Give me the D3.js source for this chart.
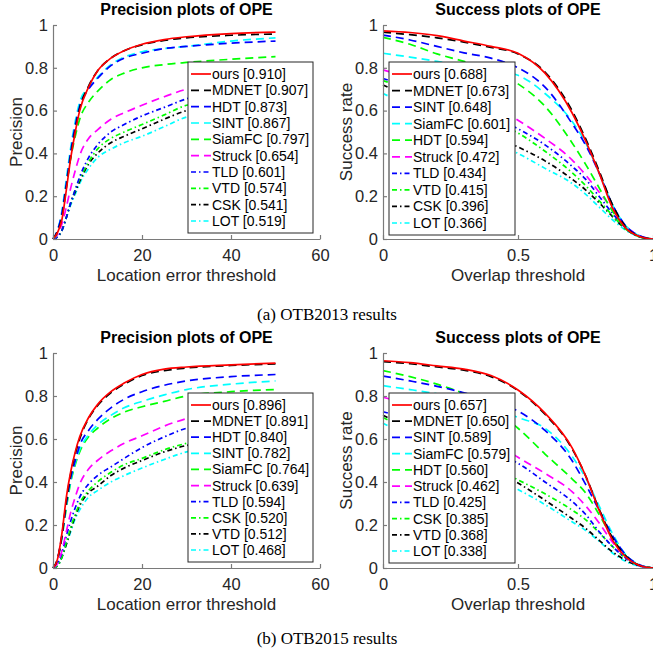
<!DOCTYPE html>
<html><head><meta charset="utf-8">
<script src="https://cdn.jsdelivr.net/npm/d3@7"></script>
<style>
body{margin:0;background:#fff;}
svg{display:block;}
text{font-family:"Liberation Sans",Arial,sans-serif;}
</style></head>
<body>
<svg id="chart" width="653" height="657"></svg>
<script>
// ---------- DATA ----------
const precThresholds = [0,1,2,3,4,5,6,8,10,13,16,20,25,30,40,50];
const succThresholds = [0,0.1,0.2,0.3,0.4,0.5,0.6,0.7,0.75,0.8,0.85,0.9,0.95,1];
const precTicks = [0,20,40,60];
const succTicks = [0,0.5,1];
const yTicks = [0,0.2,0.4,0.6,0.8,1];

// OTB2013 precision
const prec13Names  = ["ours","MDNET","HDT","SINT","SiamFC","Struck","TLD","VTD","CSK","LOT"];
const prec13Scores = ["0.910","0.907","0.873","0.867","0.797","0.654","0.601","0.574","0.541","0.519"];
const prec13Values = [
  [0,0.03,0.09,0.23,0.38,0.50,0.60,0.71,0.785,0.845,0.88,0.91,0.932,0.945,0.96,0.967],
  [0,0.035,0.10,0.24,0.39,0.51,0.61,0.715,0.785,0.845,0.88,0.907,0.928,0.94,0.952,0.958],
  [0,0.04,0.12,0.26,0.41,0.53,0.62,0.70,0.75,0.81,0.845,0.868,0.89,0.90,0.915,0.925],
  [0,0.04,0.13,0.28,0.43,0.55,0.64,0.71,0.755,0.815,0.85,0.875,0.89,0.90,0.925,0.94],
  [0,0.03,0.11,0.25,0.38,0.48,0.56,0.64,0.69,0.745,0.775,0.80,0.815,0.825,0.84,0.852],
  [0,0.02,0.07,0.15,0.24,0.32,0.39,0.47,0.51,0.56,0.59,0.625,0.665,0.70,0.73,0.75],
  [0,0.01,0.04,0.10,0.17,0.23,0.29,0.38,0.44,0.50,0.535,0.575,0.615,0.655,0.69,0.71],
  [0,0.01,0.04,0.10,0.17,0.23,0.28,0.36,0.42,0.47,0.50,0.535,0.58,0.625,0.655,0.675],
  [0,0.01,0.04,0.10,0.17,0.22,0.27,0.35,0.40,0.45,0.48,0.515,0.56,0.60,0.63,0.65],
  [0,0.01,0.04,0.10,0.16,0.21,0.26,0.33,0.38,0.42,0.45,0.48,0.525,0.57,0.60,0.62]
];

// OTB2013 success
const succ13Names  = ["ours","MDNET","SINT","SiamFC","HDT","Struck","TLD","VTD","CSK","LOT"];
const succ13Scores = ["0.688","0.673","0.648","0.601","0.594","0.472","0.434","0.415","0.396","0.366"];
const succ13Values = [
  [0.973,0.965,0.95,0.925,0.90,0.868,0.775,0.59,0.46,0.31,0.145,0.05,0.012,0],
  [0.966,0.955,0.94,0.92,0.895,0.865,0.78,0.60,0.47,0.32,0.16,0.055,0.012,0],
  [0.953,0.93,0.90,0.87,0.845,0.80,0.71,0.54,0.44,0.31,0.16,0.06,0.015,0],
  [0.868,0.85,0.83,0.81,0.79,0.765,0.68,0.55,0.45,0.31,0.16,0.06,0.015,0],
  [0.942,0.91,0.865,0.83,0.79,0.725,0.62,0.45,0.35,0.24,0.13,0.05,0.012,0],
  [0.79,0.755,0.72,0.68,0.63,0.555,0.47,0.37,0.30,0.22,0.14,0.06,0.015,0],
  [0.75,0.71,0.67,0.62,0.57,0.515,0.44,0.34,0.28,0.20,0.12,0.05,0.012,0],
  [0.74,0.70,0.66,0.61,0.555,0.495,0.41,0.31,0.25,0.18,0.11,0.045,0.01,0],
  [0.72,0.66,0.60,0.54,0.485,0.43,0.365,0.28,0.23,0.17,0.105,0.045,0.01,0],
  [0.68,0.62,0.56,0.51,0.455,0.40,0.33,0.26,0.21,0.15,0.09,0.04,0.01,0]
];

// OTB2015 precision
const prec15Names  = ["ours","MDNET","HDT","SINT","SiamFC","Struck","TLD","CSK","VTD","LOT"];
const prec15Scores = ["0.896","0.891","0.840","0.782","0.764","0.639","0.594","0.520","0.512","0.468"];
const prec15Values = [
  [0,0.04,0.16,0.33,0.45,0.54,0.61,0.70,0.76,0.82,0.86,0.90,0.925,0.935,0.945,0.953],
  [0,0.04,0.15,0.31,0.44,0.53,0.60,0.695,0.755,0.815,0.855,0.895,0.918,0.93,0.942,0.949],
  [0,0.04,0.15,0.30,0.42,0.50,0.57,0.64,0.69,0.745,0.785,0.82,0.85,0.87,0.89,0.90],
  [0,0.04,0.14,0.29,0.41,0.49,0.55,0.62,0.665,0.71,0.745,0.775,0.805,0.83,0.855,0.87],
  [0,0.04,0.14,0.28,0.40,0.48,0.54,0.61,0.65,0.695,0.725,0.75,0.775,0.80,0.82,0.83],
  [0,0.02,0.08,0.17,0.26,0.33,0.39,0.46,0.50,0.545,0.58,0.615,0.66,0.695,0.73,0.75],
  [0,0.02,0.07,0.15,0.22,0.28,0.33,0.39,0.43,0.47,0.51,0.56,0.61,0.65,0.68,0.70],
  [0,0.01,0.05,0.12,0.19,0.25,0.30,0.36,0.40,0.445,0.48,0.51,0.55,0.58,0.615,0.635],
  [0,0.01,0.05,0.11,0.18,0.24,0.29,0.35,0.38,0.43,0.465,0.50,0.54,0.57,0.60,0.62],
  [0,0.01,0.05,0.11,0.17,0.23,0.27,0.33,0.36,0.40,0.43,0.465,0.505,0.54,0.57,0.59]
];

// OTB2015 success
const succ15Names  = ["ours","MDNET","SINT","SiamFC","HDT","Struck","TLD","CSK","VTD","LOT"];
const succ15Scores = ["0.657","0.650","0.589","0.579","0.560","0.462","0.425","0.385","0.368","0.338"];
const succ15Values = [
  [0.964,0.955,0.94,0.925,0.895,0.828,0.72,0.56,0.43,0.27,0.13,0.05,0.012,0],
  [0.96,0.95,0.935,0.92,0.89,0.825,0.715,0.555,0.43,0.275,0.14,0.055,0.012,0],
  [0.893,0.87,0.845,0.815,0.78,0.73,0.64,0.50,0.39,0.27,0.15,0.06,0.015,0],
  [0.848,0.83,0.81,0.785,0.75,0.70,0.65,0.52,0.42,0.29,0.16,0.06,0.015,0],
  [0.918,0.89,0.855,0.81,0.74,0.65,0.53,0.415,0.35,0.25,0.14,0.055,0.012,0],
  [0.794,0.76,0.72,0.665,0.60,0.515,0.44,0.355,0.29,0.21,0.12,0.05,0.012,0],
  [0.727,0.69,0.645,0.595,0.545,0.487,0.40,0.31,0.25,0.17,0.10,0.045,0.01,0],
  [0.70,0.64,0.585,0.53,0.47,0.41,0.345,0.27,0.225,0.165,0.10,0.045,0.012,0],
  [0.71,0.65,0.59,0.525,0.46,0.395,0.315,0.23,0.185,0.13,0.075,0.035,0.01,0],
  [0.673,0.61,0.55,0.49,0.425,0.365,0.295,0.215,0.175,0.125,0.07,0.03,0.008,0]
];

// line style per legend rank
const rankColors = ["#ff0000","#000000","#0000ff","#00ffff","#00ff00","#ff00ff","#0000ff","#00ff00","#000000","#00ffff"];
const rankDash   = [null,"8,5","8,5","8,5","8,5","8,5","5,3,1.5,3","5,3,1.5,3","5,3,1.5,3","5,3,1.5,3"];

// ---------- DRAW ----------
const svg = d3.select("#chart");
const textColor = "#262626";
const axisColor = "#7a7a7a";

function drawPanel(cfg){
  const x = d3.scaleLinear().domain(cfg.xDomain).range([cfg.left, cfg.right]);
  const y = d3.scaleLinear().domain([0,1]).range([cfg.bottom, cfg.top]);
  const g = svg.append("g");

  const line = d3.line().x((d,i)=>x(cfg.xs[i])).y(d=>y(d)).curve(d3.curveMonotoneX);
  const order = d3.range(cfg.values.length).reverse();
  g.selectAll("path.curve").data(order).join("path")
    .attr("class","curve")
    .attr("d", i=>line(cfg.values[i]))
    .attr("fill","none")
    .attr("stroke", i=>rankColors[i])
    .attr("stroke-width",1.7)
    .attr("stroke-dasharray", i=>rankDash[i]);

  const ax = g.append("g").attr("transform",`translate(0,${cfg.bottom})`)
    .call(d3.axisBottom(x).tickValues(cfg.xTicks).tickFormat(d3.format("")).tickSizeInner(-4).tickSizeOuter(0).tickPadding(10));
  const ay = g.append("g").attr("transform",`translate(${cfg.left},0)`)
    .call(d3.axisLeft(y).tickValues(yTicks).tickFormat(d3.format("")).tickSizeInner(-4).tickSizeOuter(0).tickPadding(5));
  [ax,ay].forEach(a=>{
    a.select(".domain").attr("stroke",axisColor).attr("stroke-width",1.2);
    a.selectAll(".tick line").attr("stroke",axisColor).attr("stroke-width",1.2);
    a.selectAll(".tick text").attr("fill",textColor).style("font-size","16.5px").style("font-family","'Liberation Sans',Arial,sans-serif");
  });

  g.append("text").attr("x",(cfg.left+cfg.titleRight)/2).attr("y",cfg.top-10)
    .attr("text-anchor","middle").style("font-size","16px").style("font-weight","bold").attr("fill","#000")
    .text(cfg.title);
  g.append("text").attr("x",(cfg.left+cfg.titleRight)/2).attr("y",cfg.bottom+42)
    .attr("text-anchor","middle").style("font-size","17px").attr("fill",textColor).text(cfg.xLabel);
  g.append("text").attr("transform",`translate(${cfg.left-31},${(cfg.top+cfg.bottom)/2}) rotate(-90)`)
    .attr("text-anchor","middle").style("font-size","17px").attr("fill",textColor).text(cfg.yLabel);

  const L = cfg.legend;
  const lg = g.append("g");
  lg.append("rect").attr("x",L.x).attr("y",L.y).attr("width",L.w).attr("height",L.h)
    .attr("fill","#fff").attr("stroke",textColor).attr("stroke-width",1);
  const step = (L.h-24)/9;
  cfg.names.forEach((n,i)=>{
    const cy = L.y+12+i*step;
    lg.append("line").attr("x1",L.x+3).attr("x2",L.x+23).attr("y1",cy).attr("y2",cy)
      .attr("stroke",rankColors[i]).attr("stroke-width",1.7).attr("stroke-dasharray",rankDash[i]);
    lg.append("text").attr("x",L.x+24).attr("y",cy+5).style("font-size","14px").attr("fill","#000")
      .text(`${n} [${cfg.scores[i]}]`);
  });
}

drawPanel({left:53,right:320,titleRight:320,top:25,bottom:239,xDomain:[0,60],xs:precThresholds,xTicks:precTicks,
  values:prec13Values,names:prec13Names,scores:prec13Scores,title:"Precision plots of OPE",
  xLabel:"Location error threshold",yLabel:"Precision",legend:{x:188,y:62,w:125,h:171}});
drawPanel({left:383,right:653,titleRight:653,top:25,bottom:239,xDomain:[0,1],xs:succThresholds,xTicks:succTicks,
  values:succ13Values,names:succ13Names,scores:succ13Scores,title:"Success plots of OPE",
  xLabel:"Overlap threshold",yLabel:"Success rate",legend:{x:389,y:62,w:126,h:173}});
drawPanel({left:53,right:320,titleRight:320,top:353,bottom:568,xDomain:[0,60],xs:precThresholds,xTicks:precTicks,
  values:prec15Values,names:prec15Names,scores:prec15Scores,title:"Precision plots of OPE",
  xLabel:"Location error threshold",yLabel:"Precision",legend:{x:188,y:393,w:125,h:169}});
drawPanel({left:383,right:653,titleRight:653,top:353,bottom:568,xDomain:[0,1],xs:succThresholds,xTicks:succTicks,
  values:succ15Values,names:succ15Names,scores:succ15Scores,title:"Success plots of OPE",
  xLabel:"Overlap threshold",yLabel:"Success rate",legend:{x:389,y:393,w:126,h:170}});

svg.append("text").attr("x",327).attr("y",320).attr("text-anchor","middle")
  .style("font-family","'Liberation Serif','Times New Roman',serif").style("font-size","17px").text("(a) OTB2013 results");
svg.append("text").attr("x",327).attr("y",644).attr("text-anchor","middle")
  .style("font-family","'Liberation Serif','Times New Roman',serif").style("font-size","17px").text("(b) OTB2015 results");
</script>
</body></html>
